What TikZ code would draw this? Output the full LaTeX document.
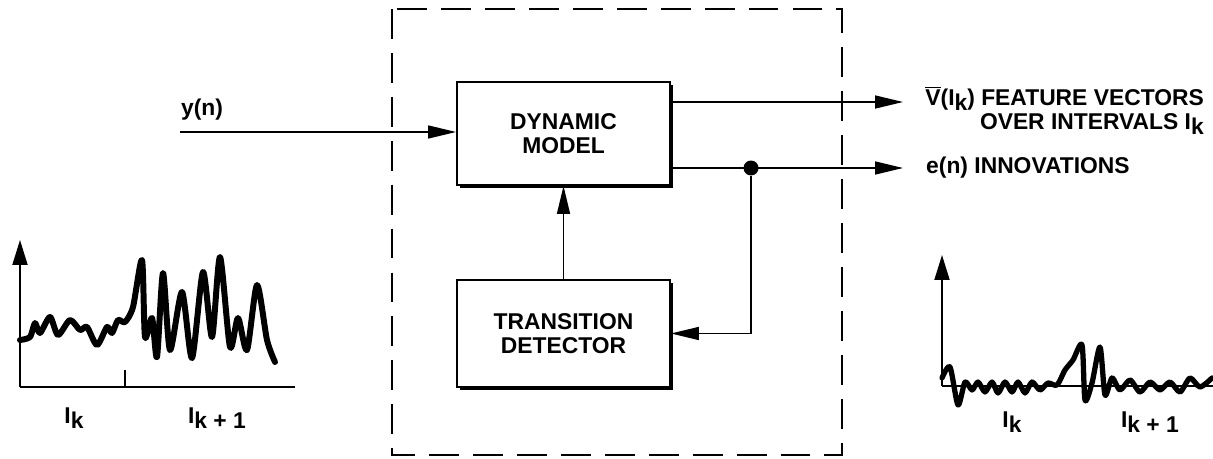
\documentclass[tikz,border=0pt]{standalone}
\usepackage{fontspec}
\setmainfont{Liberation Sans}
\usetikzlibrary{positioning,shadows,arrows.meta,calc}

\newcommand{\Ik}{I\raisebox{-.45ex}{k}}
\newcommand{\Ikk}{I\raisebox{-.45ex}{k + 1}}

\begin{document}
\begin{tikzpicture}[x=0.02cm,y=-0.02cm,
		  every node/.style={font=\fontsize{13}{13.5}\selectfont\bfseries},
		  block/.style={draw,line width=1.1pt,fill=white,minimum width=4.26cm,align=center,
		    drop shadow={shadow xshift=1.6pt,shadow yshift=-1.6pt,opacity=1,fill=black}},
		  conn/.style={line width=0.9pt,-{Triangle[length=0.56cm,width=0.26cm]}},
		  frame/.style={line width=1pt,dash pattern=on 17pt off 8pt},
		  axis/.style={line width=1.1pt,-{Triangle[length=0.5cm,width=0.3cm]}},
		  trace/.style={line width=3.4pt,line join=round,line cap=round}
		]
			\useasboundingbox (0,0) rectangle (1213,459);

			% the processor
			\draw[frame] (392,9) rectangle (842,455);
			\node[block,minimum height=2.06cm] (dm) at (563.5,133.5) {DYNAMIC\\MODEL};
			\node[block,minimum height=2.14cm] (td) at (563.5,333.5) {TRANSITION\\DETECTOR};
			\node[circle,fill,inner sep=0pt,minimum size=0.3cm] (tap) at (751,168) {};

			% input and outputs
			\coordinate (yin) at (180,132);
			\coordinate (vout) at (903,102);
			\coordinate (eout) at (903,168);
			\node (ylab) at (202,110) {y(n)};
			\node[align=right,anchor=east] (feat) at (1210,110.5)
			  {$\overline{\hbox{V}}$(\Ik) FEATURE VECTORS\\OVER INTERVALS \Ik};
			\node[anchor=west] (innov) at (920,168) {e(n) INNOVATIONS};

			% the edges
			\draw[conn] (yin) -- (yin -| dm.west);
			\draw[conn] (dm.east |- vout) -- (vout);
			\draw[conn] (dm.east |- eout) -- (eout);
			\draw[conn] (tap) |- (td.east);
			\draw[conn] (td) -- (dm);

			% speech signal y(n)
			\draw[axis] (20,387) -- (20,240);
			\draw[line width=1.1pt] (20,387) -- (295,387);
			\draw[line width=1pt] (125,370) -- (125,387);
			\draw[trace] plot[smooth,tension=0.45] coordinates {
			  (20,340) (30,337) (35,323) (40,333) (50,317) (58,335) (70,320) (80,330)
			  (87,327) (97,345) (107,327) (112,333) (118,320) (125,322) (133,307)
			  (142,260) (145,337) (152,318) (157,357) (163,273) (170,350) (182,292)
			  (192,358) (203,272) (212,337) (220,257) (230,347) (238,318) (247,350)
			  (257,285) (267,340) (275,362)};
			\node (la) at (74,418) {\Ik};
			\node (lb) at (217,418) {\Ikk};

			% innovations e(n)
			\draw[axis] (942,386) -- (942,255);
			\draw[line width=1.1pt] (942,386) -- (1213,386);
			\draw[trace,line width=3pt] plot[smooth,tension=0.45] coordinates {
			  (942,378) (950,367) (958,405) (965,382) (972,390) (978,382) (985,392)
			  (992,382) (998,393) (1005,382) (1012,392) (1018,382) (1025,393)
			  (1032,382) (1040,390) (1048,383) (1057,385) (1065,370) (1073,360)
			  (1082,345) (1085,400) (1092,383) (1100,347) (1105,395) (1112,378)
			  (1120,390) (1130,380) (1140,392) (1150,382) (1160,390) (1170,382)
			  (1180,392) (1190,378) (1200,387) (1212,378)};
			\node (ra) at (1012,422) {\Ik};
			\node (rb) at (1150,422) {\Ikk};

		\end{tikzpicture}
\end{document}
